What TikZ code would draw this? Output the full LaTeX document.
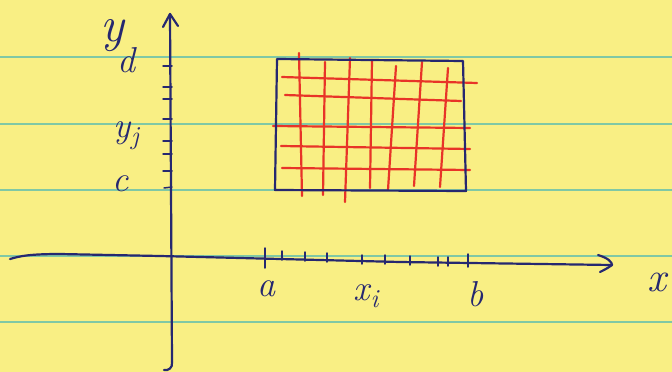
\documentclass[tikz,border=0pt]{standalone}
\usetikzlibrary{calc}
\definecolor{pad}{RGB}{249,239,132}
\definecolor{rule}{RGB}{128,200,165}
\definecolor{ink}{RGB}{38,40,112}
\definecolor{redink}{RGB}{232,52,40}
\tikzset{
  padrule/.style={rule,line width=1.4pt},
  blueink/.style={ink,line width=2.2pt,line cap=round,line join=round},
  redpen/.style={redink,line width=2.2pt,line cap=round},
  tick/.style={ink,line width=1.5pt,line cap=round},
  lab/.style={ink,font=\fontsize{36}{36}\selectfont\itshape,inner sep=0pt}
}
\newcommand{\subsc}[1]{\hspace{1pt}\raisebox{-7pt}{\fontsize{26}{26}\selectfont\itshape #1}}
\begin{document}
\begin{tikzpicture}[x=1pt,y=-1pt]
\fill[pad] (0,0) rectangle (672,372);
\useasboundingbox (0,0) rectangle (672,372);
% ruled lines
\foreach \yy in {57,124,190,256,322}
  \draw[padrule] (0,\yy) -- (672,\yy);
% red grid
\draw[redpen] (299,53) -- (302,196);
\draw[redpen] (325,62) -- (323,195);
\draw[redpen] (350,58) -- (345,202);
\draw[redpen] (372,60) -- (370,188);
\draw[redpen] (396,66) -- (388,190);
\draw[redpen] (422,62) -- (414,186);
\draw[redpen] (448,68) -- (440,187);
\draw[redpen] (282,77) -- (477,83);
\draw[redpen] (285,95) -- (461,101);
\draw[redpen] (273,126) -- (470,128);
\draw[redpen] (281,146) -- (470,149);
\draw[redpen] (282,168) -- (470,170);
% blue rectangle
\coordinate (r1) at (277,59);
\coordinate (r2) at (463,61);
\coordinate (r3) at (466,191);
\coordinate (r4) at (275,190);
\draw[blueink] (r1) -- (r2) -- (r3) -- (r4) -- cycle;
% y axis
\coordinate (ytop) at (170,14);
\coordinate (ybot) at (172,362);
\draw[blueink] (ybot) .. controls (173,368) and (168,371) .. (164,370);
\draw[blueink] (ybot) -- (ytop);
\draw[blueink] (163,27) -- (ytop) -- (178,26);
\foreach \yy in {66,87,99,119,141,154,171}
  \draw[tick] (163,\yy) -- (172,\yy);
\draw[tick] (164,188) -- (172,187);
% x axis
\coordinate (xl) at (10,259);
\coordinate (xr) at (612,265);
\draw[blueink] (xl) .. controls (20,256) and (30,254) .. (60,254) -- (160,256) -- (400,262) -- (xr);
\draw[blueink] (598,255) .. controls (608,258) and (612,262) .. (xr) .. controls (608,268) and (604,270) .. (600,272);
\draw[tick] (265,248) -- (265,268);
\foreach \xx/\yy in {282/257,305/258,327/259,362/261,385/261,410/262,438/263,448/263}
  \draw[tick] (\xx,\yy-6) -- (\xx,\yy+3);
\draw[tick] (468,254) -- (468,267);
% labels
\node[lab,font=\fontsize{50}{50}\selectfont\itshape] (ylab) at (112,36) {y};
\node[lab] (dlab) at (126,60) {d};
\node[lab] (yjlab) at (126,136) {y\subsc{j}};
\node[lab] (clab) at (121,184) {c};
\node[lab] (alab) at (266,289) {a};
\node[lab] (xilab) at (366,296) {x\subsc{i}};
\node[lab] (blab) at (476,294) {b};
\node[lab,font=\fontsize{42}{42}\selectfont\itshape] (xlab) at (657,282) {x};
\end{tikzpicture}
\end{document}
